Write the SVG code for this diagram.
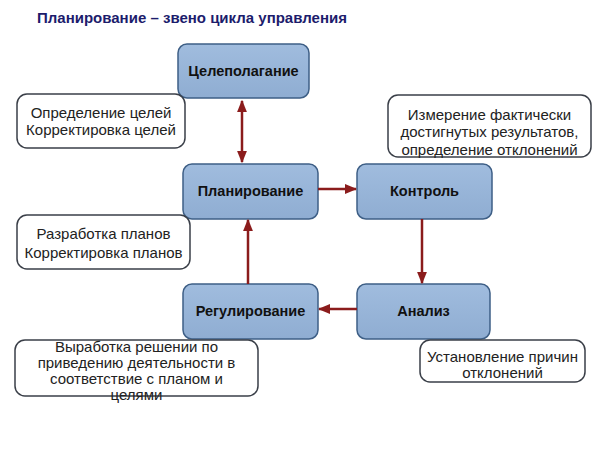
<svg xmlns="http://www.w3.org/2000/svg" width="600" height="450" viewBox="0 0 600 450">
<defs>
<linearGradient id="bg" x1="0" y1="0" x2="0" y2="1">
<stop offset="0" stop-color="#a0bcde"/>
<stop offset="1" stop-color="#8fadd2"/>
</linearGradient>
<marker id="ah" viewBox="0 0 10 10" refX="9" refY="5" markerWidth="5" markerHeight="5" orient="auto-start-reverse">
<path d="M0,1 L10,5 L0,9 Z" fill="#8b1c1c"/>
</marker>
</defs>
<style>
.blue{fill:url(#bg);stroke:#3e5f86;stroke-width:1.5}
.note{fill:#fff;stroke:#3a3f48;stroke-width:1.5}
.bt{font-family:"Liberation Sans",Arial,sans-serif;font-weight:bold;font-size:14.5px;fill:#111;text-anchor:middle}
.nt{font-family:"Liberation Sans",Arial,sans-serif;font-size:15px;fill:#222;text-anchor:middle}
.cn{stroke:#8b1c1c;stroke-width:2.5;fill:none;marker-end:url(#ah)}
</style>
<rect width="600" height="450" fill="#fff"/>
<text x="37" y="23" font-family="Liberation Sans,Arial,sans-serif" font-weight="bold" font-size="15" fill="#1c1c6c">Планирование – звено цикла управления</text>

<g id="n-celepolaganie"><rect class="blue" x="178" y="44" width="131" height="54" rx="9"/><text class="bt" x="243.5" y="76">Целеполагание</text></g>
<g id="n-planirovanie"><rect class="blue" x="183" y="164" width="135" height="55" rx="9"/><text class="bt" x="250.5" y="196">Планирование</text></g>
<g id="n-kontrol"><rect class="blue" x="357" y="164" width="135" height="55" rx="9"/><text class="bt" x="424.5" y="196">Контроль</text></g>
<g id="n-regulirovanie"><rect class="blue" x="183" y="284" width="135" height="55" rx="9"/><text class="bt" x="250.5" y="316">Регулирование</text></g>
<g id="n-analiz"><rect class="blue" x="357" y="284" width="133" height="55" rx="9"/><text class="bt" x="423.5" y="316">Анализ</text></g>

<g id="connectors">
<line class="cn" x1="242" y1="101" x2="242" y2="162" marker-start="url(#ah)"/>
<line class="cn" x1="318" y1="189" x2="356" y2="189"/>
<line class="cn" x1="422" y1="219" x2="422" y2="283"/>
<line class="cn" x1="357" y1="309" x2="319" y2="309"/>
<line class="cn" x1="248" y1="284" x2="248" y2="220"/>
</g>

<g id="t-opredelenie"><rect class="note" x="17" y="94" width="168" height="54" rx="10"/><text class="nt" x="101" y="118">Определение целей</text><text class="nt" x="101" y="135">Корректировка целей</text></g>
<g id="t-izmerenie"><rect class="note" x="388" y="95" width="203" height="62" rx="10"/><text class="nt" x="489.5" y="120">Измерение фактически</text><text class="nt" x="489.5" y="137">достигнутых результатов,</text><text class="nt" x="489.5" y="155">определение отклонений</text></g>
<g id="t-razrabotka"><rect class="note" x="17" y="215" width="173" height="54" rx="10"/><text class="nt" x="103.5" y="239">Разработка планов</text><text class="nt" x="103.5" y="258">Корректировка планов</text></g>
<g id="t-vyrabotka"><rect class="note" x="15" y="340" width="243" height="56" rx="10"/><text class="nt" x="136.5" y="352">Выработка решении по</text><text class="nt" x="136.5" y="368">приведению деятельности в</text><text class="nt" x="136.5" y="384">соответствие с планом и</text><text class="nt" x="136.5" y="400">целями</text></g>
<g id="t-ustanovlenie"><rect class="note" x="420" y="340" width="165" height="42" rx="10"/><text class="nt" x="502.5" y="362">Установление причин</text><text class="nt" x="502.5" y="378">отклонений</text></g>
</svg>
